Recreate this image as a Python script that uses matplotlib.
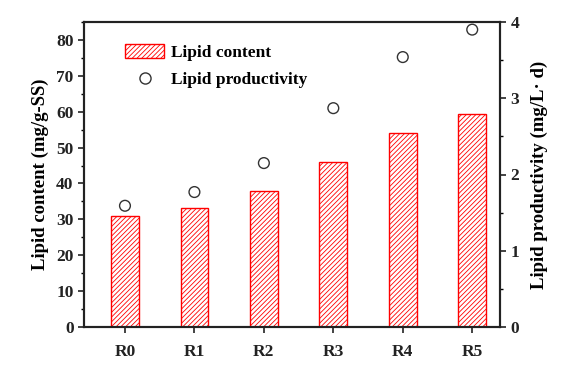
import matplotlib
matplotlib.use("Agg")
import matplotlib.pyplot as plt
from matplotlib.ticker import MultipleLocator
from matplotlib.lines import Line2D
from matplotlib.patches import Patch

categories = ["R0", "R1", "R2", "R3", "R4", "R5"]
lipid_content = [30.9, 33.3, 37.8, 46.1, 54.2, 59.5]
lipid_productivity = [1.59, 1.77, 2.15, 2.87, 3.54, 3.90]

plt.rcParams['font.family'] = ['Liberation Serif', 'DejaVu Serif']
plt.rcParams['font.weight'] = 'bold'
plt.rcParams['hatch.linewidth'] = 0.6

fig = plt.figure(figsize=(5.7, 3.72), dpi=100)
ax = fig.add_axes([84/570, 1-327/372, (500-84)/570, (327-22)/372])
x = list(range(len(categories)))
ax.bar(x, lipid_content, width=0.4, facecolor='white', edgecolor='red',
       hatch='///////', linewidth=1.0)
ax.set_xlim(-0.59, 5.4)
ax.set_ylim(0, 85)
ax.set_xticks(x)
ax.set_xticklabels(categories)
ax.yaxis.set_major_locator(MultipleLocator(10))
ax.yaxis.set_minor_locator(MultipleLocator(5))
ax.set_ylabel("Lipid content (mg/g-SS)", fontsize=13.5, fontweight='bold', labelpad=5)
ax.tick_params(axis='both', which='major', direction='out', length=4, width=1.2, labelsize=12.5, colors='#222', labelcolor='#222')
ax.tick_params(axis='y', which='minor', direction='out', length=2.5, width=1.0)
ax.tick_params(axis='x', pad=8)
for s in ax.spines.values():
    s.set_linewidth(1.5)
    s.set_color('#222')

ax2 = ax.twinx()
ax2.scatter(x, lipid_productivity, s=60, facecolors='none', edgecolors='#333', linewidths=1.0, zorder=3)
ax2.set_ylim(0, 4)
ax2.yaxis.set_major_locator(MultipleLocator(1))
ax2.yaxis.set_minor_locator(MultipleLocator(0.5))
ax2.tick_params(axis='y', which='major', direction='out', length=4, width=1.2, labelsize=12.5, colors='#222')
ax2.tick_params(axis='y', which='minor', direction='out', length=2.5, width=1.0)
ax2.set_ylabel("Lipid productivity (mg/L· d)", fontsize=13.5, fontweight='bold', labelpad=8)
for s in ax2.spines.values():
    s.set_linewidth(1.5)
    s.set_color('#222')

handles = [Patch(facecolor='white', edgecolor='red', hatch='///////', linewidth=1.0),
           Line2D([], [], marker='o', linestyle='none', markerfacecolor='none',
                  markeredgecolor='#333', markersize=8)]
ax.legend(handles, ["Lipid content", "Lipid productivity"], loc='upper left',
          bbox_to_anchor=(0.062, 0.98), frameon=False, fontsize=12.5,
          handlelength=2.2, handleheight=0.85, labelspacing=0.6, handletextpad=0.4)

fig.savefig("out.png", dpi=100)
